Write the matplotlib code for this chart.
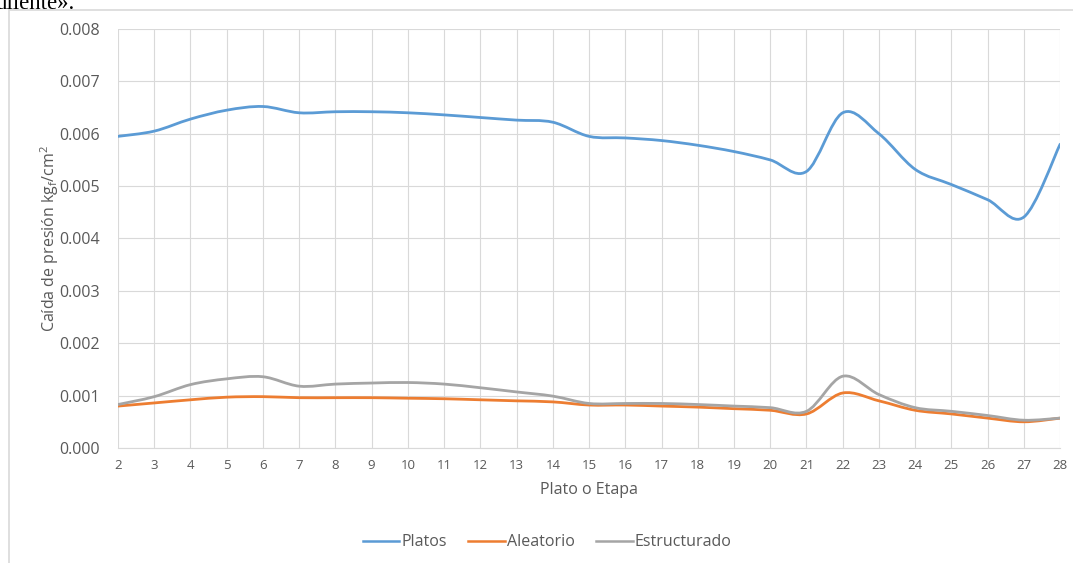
import numpy as np
import matplotlib
matplotlib.use("Agg")
import matplotlib.pyplot as plt
from matplotlib.path import Path
from matplotlib.patches import PathPatch, Rectangle
from matplotlib.lines import Line2D

plt.rcParams['font.family'] = ['Open Sans', 'DejaVu Sans']
plt.rcParams['mathtext.default'] = 'regular'

etapas = list(range(2, 29))
platos = [0.00595, 0.00605, 0.00628, 0.00645, 0.00652, 0.00640, 0.00642, 0.00642,
          0.00640, 0.00636, 0.00631, 0.00626, 0.00622, 0.00595, 0.00592, 0.00587,
          0.00578, 0.00566, 0.00550, 0.00528, 0.00640, 0.00600, 0.00532, 0.00503,
          0.00474, 0.00441, 0.00580]
aleatorio = [0.00080, 0.00086, 0.00092, 0.00097, 0.00098, 0.00096, 0.00096, 0.00096,
             0.00095, 0.00094, 0.00092, 0.00090, 0.00088, 0.00082, 0.00082, 0.00080,
             0.00078, 0.00075, 0.00072, 0.00065, 0.00105, 0.00090, 0.00072, 0.00065,
             0.00057, 0.00050, 0.00057]
estructurado = [0.00083, 0.00098, 0.00121, 0.00132, 0.00136, 0.00118, 0.00122, 0.00124,
                0.00125, 0.00122, 0.00115, 0.00107, 0.00099, 0.00085, 0.00085, 0.00085,
                0.00083, 0.00080, 0.00077, 0.00070, 0.00137, 0.00102, 0.00077, 0.00070,
                0.00062, 0.00053, 0.00057]

series = [("Platos", platos, "#5B9BD5"),
          ("Aleatorio", aleatorio, "#ED7D31"),
          ("Estructurado", estructurado, "#A5A5A5")]


def smooth_path(x, y, t=1/6):
    # Excel-style smoothed line: Catmull-Rom segments as cubic Bezier curves
    x = np.asarray(x, float)
    y = np.asarray(y, float)
    verts = [(x[0], y[0])]
    codes = [Path.MOVETO]
    n = len(x)
    for i in range(n - 1):
        i0 = max(i - 1, 0)
        i3 = min(i + 2, n - 1)
        c1 = (x[i] + (x[i + 1] - x[i0]) * t, y[i] + (y[i + 1] - y[i0]) * t)
        c2 = (x[i + 1] - (x[i3] - x[i]) * t, y[i + 1] - (y[i3] - y[i]) * t)
        verts += [c1, c2, (x[i + 1], y[i + 1])]
        codes += [Path.CURVE4] * 3
    return Path(verts, codes)


fig = plt.figure(figsize=(10.73, 5.63), dpi=100)
ax = fig.add_axes([0.110, 0.2043, 0.878, 0.7442])

for name, vals, color in series:
    ax.add_patch(PathPatch(smooth_path(etapas, vals), facecolor='none',
                           edgecolor=color, lw=2.0, capstyle='round', zorder=3))

ax.set_xlim(2, 28)
ax.set_ylim(0, 0.008)
ax.set_xticks(etapas)
ax.set_yticks(np.arange(0, 0.0081, 0.001))
ax.yaxis.set_major_formatter(matplotlib.ticker.FormatStrFormatter('%.3f'))
ax.grid(True, color='#d9d9d9', lw=0.8)
ax.set_axisbelow(True)
for s in ['top', 'right', 'left']:
    ax.spines[s].set_visible(False)
ax.spines['bottom'].set_color('#d9d9d9')
ax.tick_params(length=0, colors='#595959')
ax.tick_params(axis='y', labelsize=11.5, pad=13)
ax.tick_params(axis='x', labelsize=9.5, pad=8)

ax.set_xlabel('Plato o Etapa', fontsize=11.5, color='#595959', labelpad=7)
ax.set_ylabel('Caída de presión kg$_f$/cm$^2$', fontsize=11.5, color='#595959', labelpad=-1)

handles = [Line2D([], [], color=c, lw=1.8) for _, _, c in series]
fig.legend(handles, [n for n, _, _ in series], loc='center', ncol=3,
           bbox_to_anchor=(0.51, 0.037), frameon=False, fontsize=11.5,
           handlelength=2.3, handletextpad=0.15, columnspacing=1.3,
           labelcolor='#595959')

# chart border and cropped page text above it
fig.add_artist(Rectangle((9 / 1073, -0.01), 1.02, 1 - 10 / 563 + 0.01,
                         transform=fig.transFigure, fill=False,
                         edgecolor='#d9d9d9', lw=1.2))
fig.text(-0.004, 1 - 9 / 563, 'uliente».', fontsize=16.5, family='Liberation Serif',
         va='baseline', ha='left', color='black')

fig.savefig('out.png', dpi=100)
